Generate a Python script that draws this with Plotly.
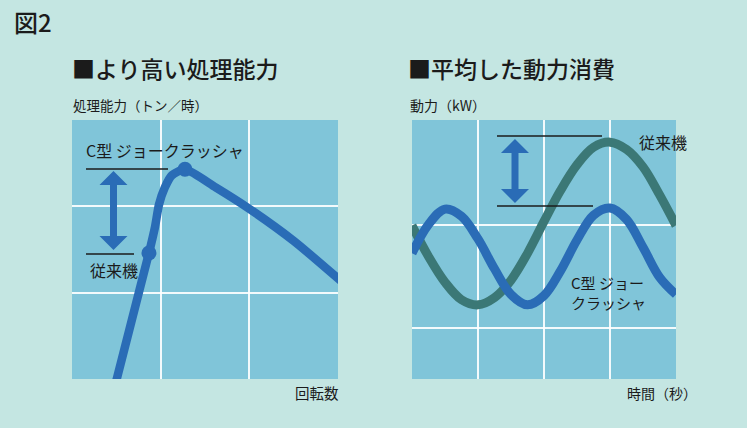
import plotly.graph_objects as go

# ---------------- data ----------------
# Left: capacity vs. rotational speed (C-type jaw crusher)
cap_x = [0.48, 0.868, 0.936, 0.981, 1.048, 1.127, 1.274, 1.62, 1.973, 2.50, 3.05]
cap_y = [-0.1, 1.46, 1.76, 2.02, 2.22, 2.36, 2.43, 2.22, 1.99, 1.60, 1.12]
dot_x = [0.868, 1.274]
dot_y = [1.46, 2.43]

# Right: power vs. time
time_x = [0, 0.25, 0.5, 0.75, 1.0, 1.25, 1.5, 1.75, 2.0, 2.25, 2.5, 2.75, 3.0, 3.25, 3.5, 3.75, 4.0]
conventional = [1.49, 1.19, 0.94, 0.77, 0.72, 0.79, 0.96, 1.22, 1.53, 1.83, 2.08, 2.25, 2.30, 2.23, 2.06, 1.79, 1.49]
c_type = [1.22, 1.50, 1.65, 1.58, 1.36, 1.07, 0.82, 0.72, 0.81, 1.05, 1.35, 1.59, 1.66, 1.55, 1.28, 0.99, 0.82]

# ---------------- styling ----------------
W, H = 747, 428
BG = "#c4e6e2"
PANEL = "#80c5d9"
BLUE = "#2a6cb6"
GREEN = "#3b7876"
TXT = "#1b1b1b"
FONT = "Noto Sans CJK JP"


def px(x):
    return x / W


def py(y):
    return 1 - y / H


fig = go.Figure()

fig.add_trace(go.Scatter(x=cap_x, y=cap_y, mode="lines",
                         line=dict(color=BLUE, width=8.5, shape="spline", smoothing=0.6),
                         xaxis="x", yaxis="y", hoverinfo="skip"))
fig.add_trace(go.Scatter(x=dot_x, y=dot_y, mode="markers",
                         marker=dict(color=BLUE, size=15),
                         xaxis="x", yaxis="y", hoverinfo="skip"))

fig.add_trace(go.Scatter(x=time_x, y=conventional, mode="lines",
                         line=dict(color=GREEN, width=9, shape="spline", smoothing=1.0),
                         xaxis="x2", yaxis="y2", hoverinfo="skip"))
fig.add_trace(go.Scatter(x=time_x, y=c_type, mode="lines",
                         line=dict(color=BLUE, width=9, shape="spline", smoothing=1.0),
                         xaxis="x2", yaxis="y2", hoverinfo="skip"))

grid = dict(showgrid=True, gridcolor="rgba(255,255,255,0.9)", gridwidth=1.5,
            zeroline=False, showline=False, showticklabels=False, ticks="")

fig.update_layout(
    width=W, height=H,
    margin=dict(l=0, r=0, t=0, b=0),
    paper_bgcolor=BG, plot_bgcolor=PANEL,
    showlegend=False,
    font=dict(family=FONT, color=TXT),
    xaxis=dict(domain=[px(72), px(338)], range=[0, 3], tickvals=[1, 2], anchor="y", **grid),
    yaxis=dict(domain=[py(379), py(120)], range=[0, 3], tickvals=[1, 2], anchor="x", **grid),
    xaxis2=dict(domain=[px(412), px(676)], range=[0, 4], tickvals=[1, 2, 3], anchor="y2", **grid),
    yaxis2=dict(domain=[py(379), py(120)], range=[0, 2.515], tickvals=[0.5, 1.5], anchor="x2", **grid),
)

shapes = []


def hline(x0, x1, y):
    shapes.append(dict(type="line", xref="paper", yref="paper",
                       x0=px(x0), x1=px(x1), y0=py(y), y1=py(y),
                       line=dict(color=TXT, width=1.3)))


def darrow(cx, ytop, ybot, head=14, headh=14, shaft=3.5):
    pts = [(cx, ytop), (cx + head, ytop + headh), (cx + shaft, ytop + headh),
           (cx + shaft, ybot - headh), (cx + head, ybot - headh), (cx, ybot),
           (cx - head, ybot - headh), (cx - shaft, ybot - headh),
           (cx - shaft, ytop + headh), (cx - head, ytop + headh)]
    path = "M " + " L ".join(f"{px(a):.5f},{py(b):.5f}" for a, b in pts) + " Z"
    shapes.append(dict(type="path", xref="paper", yref="paper", path=path,
                       fillcolor=BLUE, line=dict(width=0)))


# left panel annotation marks
hline(86, 168, 169)
hline(86, 134, 254)
darrow(113.5, 171, 250)
# right panel annotation marks
hline(497, 602, 136)
hline(497, 593, 206)
darrow(515, 139, 203)

fig.update_layout(shapes=shapes)


def text(x, y, s, size, anchor="left", weight="normal"):
    fig.add_annotation(xref="paper", yref="paper", x=px(x), y=py(y), text=s,
                       showarrow=False, xanchor=anchor, yanchor="middle", align="left",
                       font=dict(family=FONT, size=size, color=TXT, weight=weight))


text(12, 22, "図2", 24, weight=500)
text(70, 68, "■より高い処理能力", 23, weight=500)
text(406, 68, "■平均した動力消費", 23, weight=500)
text(71, 105, "処理能力（トン／時）", 13.5)
text(408, 105, "動力（kW）", 14)
text(84, 150, "C型 ジョークラッシャ", 16)
text(88, 270, "従来機", 16)
text(341, 392, "回転数", 14.5, anchor="right")
text(637, 142, "従来機", 16)
text(569, 292.5, "C型 ジョー<br>クラッシャ", 15)
text(699, 393, "時間（秒）", 14, anchor="right")

fig.write_html("out.html")
